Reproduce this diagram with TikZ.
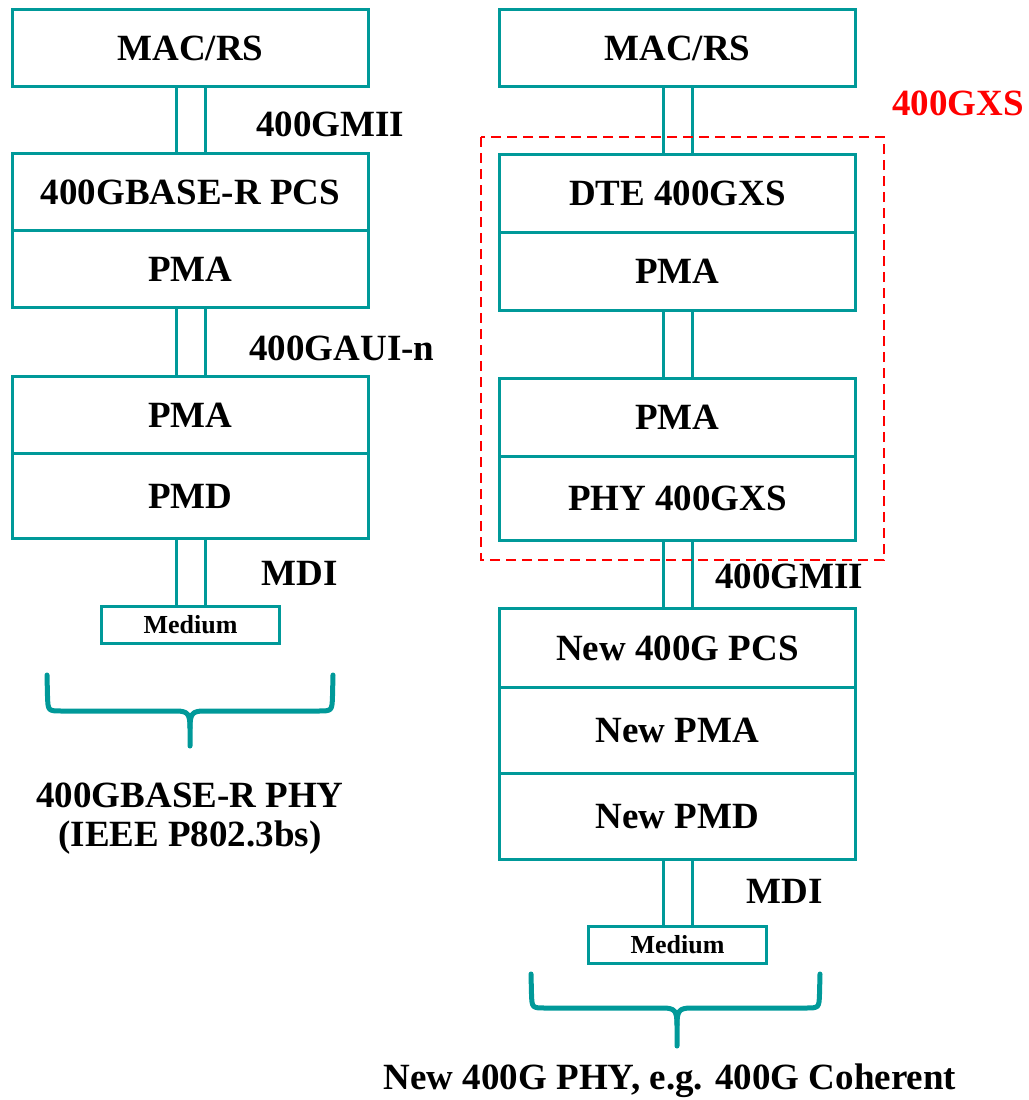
\documentclass[tikz,border=0pt]{standalone}
\usepackage{fontspec}
\setmainfont{Liberation Serif}
\usetikzlibrary{positioning, backgrounds}
\definecolor{phyteal}{RGB}{0,153,153}

\begin{document}
\begin{tikzpicture}[
  x=1pt, y=-1pt,
  font=\fontsize{37}{39}\selectfont\bfseries,
  node distance=0pt,
  layer/.style={draw=phyteal, line width=3pt, fill=white, outer sep=0pt, inner sep=0pt,
    minimum width=356pt, minimum height=77pt},
  medium/.style={layer, minimum width=178pt, minimum height=37pt, font=\fontsize{26}{28}\selectfont\bfseries},
  link/.style={draw=phyteal, line width=3pt, double=white, double distance=26pt},
  lbl/.style={inner sep=0pt},
  brace/.style={draw=phyteal, line width=5pt, line cap=round, line join=round},
  gxs/.style={draw=red, line width=2.5pt, dash pattern=on 10pt off 6pt}
]
  \useasboundingbox (0,0) rectangle (1028,1100);

  % 400GBASE-R stack
  \node[layer, anchor=north] (macL) at (190.5,9.5) {MAC/RS};
  \node[layer, anchor=north] (pcsL) at (190.5,153.5) {400GBASE-R PCS};
  \node[layer, below=of pcsL] (pmaL) {PMA};
  \node[layer, anchor=north] (pmaL2) at (190.5,376.5) {PMA};
  \node[layer, below=of pmaL2, minimum height=85pt] (pmdL) {PMD};
  \node[medium, anchor=north] (medL) at (190.5,606.5) {Medium};

  % 400GXS stack
  \node[layer, anchor=north] (macR) at (677.5,9.5) {MAC/RS};
  \node[layer, anchor=north, minimum height=78pt] (dteR) at (677.5,154.5) {DTE 400GXS};
  \node[layer, below=of dteR, minimum height=78pt] (pmaR) {PMA};
  \node[layer, anchor=north, minimum height=78pt] (pmaR2) at (677.5,378.5) {PMA};
  \node[layer, below=of pmaR2, minimum height=84pt] (phyR) {PHY 400GXS};
  \node[layer, anchor=north, minimum height=79pt] (pcsR) at (677.5,608.5) {New 400G PCS};
  \node[layer, below=of pcsR, minimum height=86pt] (pmaR3) {New PMA};
  \node[layer, below=of pmaR3, minimum height=86pt] (pmdR) {New PMD};
  \node[medium, anchor=north] (medR) at (677.5,926.5) {Medium};

  % interfaces
  \begin{scope}[on background layer]
    \draw[link] (macL) -- (pcsL);
    \draw[link] (pmaL) -- (pmaL2);
    \draw[link] (pmdL) -- (medL);
    \draw[link] (macR) -- (dteR);
    \draw[link] (pmaR) -- (pmaR2);
    \draw[link] (phyR) -- (pcsR);
    \draw[link] (pmdR) -- (medR);
  \end{scope}

  \node[lbl] (gmiiL) at (330,124) {400GMII};
  \node[lbl] (gauiL) at (342,348) {400GAUI-n};
  \node[lbl] (mdiL) at (300,573) {MDI};
  \node[lbl] (gmiiR) at (789,576) {400GMII};
  \node[lbl] (mdiR) at (785,891) {MDI};

  % 400GXS extender
  \draw[gxs] (481,137) rectangle (884,560);
  \node[lbl, text=red] (gxsL) at (958,103) {400GXS};

  % braces
  \draw[brace] (47,675) -- (47.5,696) .. controls (48,711) .. (62,711) -- (176,711)
    .. controls (188,711) and (190,714) .. (190,728) -- (190,746);
  \draw[brace] (190,728) .. controls (190,714) and (192,711) .. (204,711) -- (318,711)
    .. controls (332,711) .. (332.5,696) -- (333,675);
  \draw[brace] (531,974) -- (531.5,994) .. controls (532,1008) .. (546,1008) -- (663,1008)
    .. controls (675,1008) and (677,1011) .. (677,1025) -- (677,1046);
  \draw[brace] (677,1025) .. controls (677,1011) and (679,1008) .. (691,1008) -- (805,1008)
    .. controls (819,1008) .. (819.5,994) -- (820,974);

  \node[lbl, align=center] (capL) at (190,819) {400GBASE-R PHY\\(IEEE P802.3bs)};
  \node[lbl] (capR) at (670,1081) {New 400G PHY, e.g. 400G Coherent};
\end{tikzpicture}
\end{document}
